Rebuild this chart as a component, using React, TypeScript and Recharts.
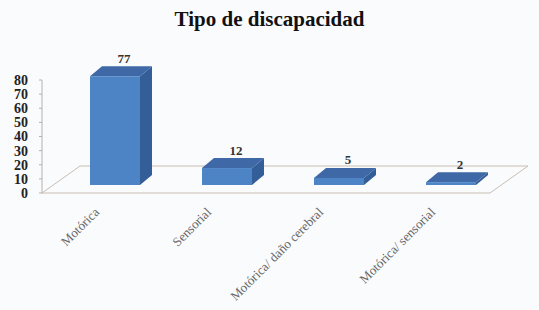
import { Bar, BarChart, Customized, LabelList, XAxis, YAxis } from 'recharts'

const categories = ['Motórica', 'Sensorial', 'Motórica/ daño cerebral', 'Motórica/ sensorial']
const values = [77, 12, 5, 2]
const yTicks = [0, 10, 20, 30, 40, 50, 60, 70, 80]

const data = categories.map((name, i) => ({ name, value: values[i] }))

const W = 539
const H = 310
const LEFT = 42
const RIGHT = 490
const TOP = 80
const BOTTOM = 193
// floor depth and bar placement inside it
const FLOOR_DX = 38
const FLOOR_DY = -27
const SHIFT_X = 17
const SHIFT_Y = -8
const DEPTH_X = 12
const DEPTH_Y = -10

function Bar3D(props: any) {
  const { x, y, width, height } = props
  const fx = x + SHIFT_X
  const fy = y + SHIFT_Y
  const h = Math.max(height, 1)
  return (
    <g>
      <polygon
        points={`${fx + width},${fy} ${fx + width + DEPTH_X},${fy + DEPTH_Y} ${fx + width + DEPTH_X},${fy + h + DEPTH_Y} ${fx + width},${fy + h}`}
        fill="#345e97"
      />
      <polygon
        points={`${fx},${fy} ${fx + DEPTH_X},${fy + DEPTH_Y} ${fx + width + DEPTH_X},${fy + DEPTH_Y} ${fx + width},${fy}`}
        fill="#3e68a6"
      />
      <rect x={fx} y={fy} width={width} height={h} fill="#4d84c6" />
    </g>
  )
}

function ValueLabel(props: any) {
  const { x, y, width, value } = props
  return (
    <text
      x={x + SHIFT_X + width / 2 + 9}
      y={y + SHIFT_Y - 18}
      textAnchor="middle"
      dominantBaseline="central"
      fontFamily="Liberation Serif"
      fontWeight="bold"
      fontSize={13}
      fill="#333"
    >
      {value}
    </text>
  )
}

function CategoryTick(props: any) {
  const { x, y, payload } = props
  const tx = x + 2
  const ty = y + 12
  return (
    <g transform={`translate(${tx}, ${ty})`}>
      <text
        x={0}
        y={0}
        transform="rotate(-45)"
        textAnchor="end"
        fontFamily="Liberation Serif"
        fontSize={13}
        fill="#666"
      >
        {payload.value}
      </text>
    </g>
  )
}

function Floor() {
  const c = '#c9bdb2'
  return (
    <g>
      <line x1={LEFT} y1={BOTTOM} x2={LEFT + FLOOR_DX} y2={BOTTOM + FLOOR_DY} stroke={c} />
      <line x1={LEFT + FLOOR_DX} y1={BOTTOM + FLOOR_DY} x2={RIGHT + FLOOR_DX} y2={BOTTOM + FLOOR_DY} stroke={c} />
      <line x1={RIGHT} y1={BOTTOM} x2={RIGHT + FLOOR_DX} y2={BOTTOM + FLOOR_DY} stroke={c} />
    </g>
  )
}

export default function App() {
  return (
    <div style={{ position: 'absolute', left: 0, top: 0, width: W, height: H, background: '#fafbfd' }}>
      <div
        style={{
          position: 'absolute',
          top: 7,
          width: W,
          textAlign: 'center',
          fontFamily: 'Liberation Serif',
          fontWeight: 'bold',
          fontSize: 21,
          color: '#111',
        }}
      >
        Tipo de discapacidad
      </div>
      <BarChart
        width={W}
        height={H}
        data={data}
        margin={{ top: TOP, right: W - RIGHT, bottom: 17, left: LEFT - 34 }}
      >
        <Customized component={<Floor />} />
        <YAxis
          width={34}
          domain={[0, 80]}
          ticks={yTicks}
          interval={0}
          tickSize={3}
          tickMargin={11}
          stroke="#b8b0a8"
          tick={{ fontFamily: 'Liberation Serif', fontWeight: 'bold', fontSize: 14, fill: '#222' }}
        />
        <XAxis
          dataKey="name"
          height={100}
          interval={0}
          tickLine={false}
          stroke="#c9bdb2"
          tick={<CategoryTick />}
        />
        <Bar dataKey="value" barSize={50} shape={<Bar3D />} isAnimationActive={false}>
          <LabelList dataKey="value" content={<ValueLabel />} />
        </Bar>
      </BarChart>
    </div>
  )
}
